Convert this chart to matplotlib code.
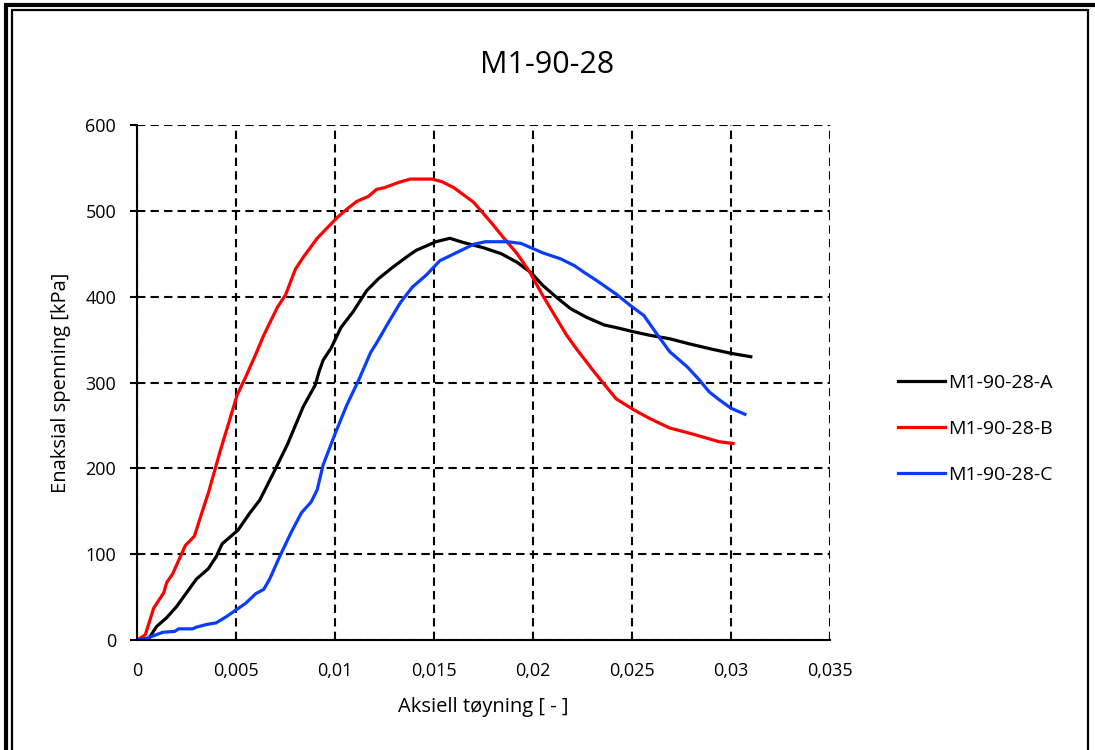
import matplotlib
matplotlib.use("Agg")
import matplotlib.pyplot as plt
from matplotlib.lines import Line2D
from matplotlib.ticker import FuncFormatter

# M1-90-28-A
strain_a = [0, 0.0006, 0.001, 0.0015, 0.002, 0.0025, 0.003, 0.0036, 0.004, 0.0043, 0.0051,
            0.0057, 0.0062, 0.0069, 0.0076, 0.0084, 0.009, 0.0092, 0.0094, 0.0098, 0.0103,
            0.0109, 0.0116, 0.0122, 0.0129, 0.0136, 0.0141, 0.0151, 0.0158, 0.0165, 0.0175,
            0.0184, 0.0192, 0.0199, 0.0205, 0.0212, 0.0219, 0.0227, 0.0236, 0.0242, 0.0251,
            0.0259, 0.0269, 0.0279, 0.029, 0.03, 0.031]
stress_a = [0, 2, 16, 26, 39, 55, 71, 83, 97, 112, 128,
            148, 163, 195, 228, 272, 297, 313, 326, 340, 364,
            382, 407, 421, 434, 446, 454, 464, 468, 463, 457,
            450, 440, 428, 413, 399, 386, 376, 367, 364, 359,
            355, 351, 345, 339, 334, 330]

# M1-90-28-B
strain_b = [0, 0.00042, 0.00084, 0.00135, 0.0015, 0.0018, 0.00244, 0.0029, 0.0033, 0.0036,
            0.0042, 0.0047, 0.00505, 0.0055, 0.006, 0.0064, 0.0071, 0.0075, 0.008, 0.0084,
            0.0091, 0.0101, 0.0106, 0.0111, 0.0117, 0.0121, 0.0125, 0.0132, 0.0138, 0.0149,
            0.0154, 0.016, 0.017, 0.0179, 0.0185, 0.0192, 0.0198, 0.0205, 0.0211, 0.0217,
            0.0222, 0.0231, 0.0237, 0.0242, 0.0251, 0.0259, 0.0269, 0.0279, 0.0288, 0.0294,
            0.0301]
stress_b = [0, 6, 37, 55, 67, 77, 110, 121, 150, 171,
            220, 258, 285, 307, 333, 355, 388, 402, 432, 446,
            468, 492, 502, 511, 517, 525, 527, 533, 537, 537,
            534, 527, 510, 486, 469, 450, 430, 401, 378, 355,
            339, 312, 295, 281, 268, 258, 247, 241, 235, 231,
            229]

# M1-90-28-C
strain_c = [0, 0.0005, 0.0013, 0.0019, 0.0021, 0.0028, 0.003, 0.0035, 0.004, 0.0045,
            0.005, 0.0055, 0.006, 0.0064, 0.0067, 0.0072, 0.0078, 0.0083, 0.0088, 0.0091,
            0.0094, 0.01, 0.0106, 0.0112, 0.0118, 0.0121, 0.0127, 0.0133, 0.0139, 0.0146,
            0.0153, 0.0162, 0.017, 0.0176, 0.0187, 0.0194, 0.0199, 0.0205, 0.0214, 0.0221,
            0.0226, 0.0232, 0.0242, 0.0249, 0.0256, 0.0263, 0.0269, 0.0278, 0.0284, 0.0289,
            0.0294, 0.03, 0.0307]
stress_c = [0, 2, 9, 10, 13, 13, 15, 18, 20, 27,
            35, 43, 54, 59, 71, 97, 126, 148, 161, 175,
            204, 240, 274, 303, 335, 346, 370, 393, 411, 425,
            442, 452, 461, 464, 464, 462, 457, 451, 444, 436,
            428, 419, 403, 390, 378, 355, 336, 318, 303, 289,
            280, 270, 263]

labels = ["M1-90-28-A", "M1-90-28-B", "M1-90-28-C"]
colors = ["#000000", "#ff0000", "#0a3cff"]

plt.rcParams['font.family'] = ['Open Sans', 'DejaVu Sans']

fig = plt.figure(figsize=(10.95, 7.5), dpi=100)
ax = fig.add_axes([137 / 1095, 1 - 640 / 750, 693 / 1095, 515 / 750])

for x, y, lab, c in zip([strain_a, strain_b, strain_c], [stress_a, stress_b, stress_c], labels, colors):
    ax.plot(x, y, color=c, lw=2.3, label=lab, zorder=3)

ax.set_xlim(0, 0.035)
ax.set_ylim(0, 600)
ax.set_xticks([0, 0.005, 0.01, 0.015, 0.02, 0.025, 0.03, 0.035])
ax.set_yticks(range(0, 601, 100))
ax.xaxis.set_major_formatter(FuncFormatter(lambda v, p: ("%g" % round(v, 4)).replace(".", ",")))
ax.tick_params(axis='x', length=0, pad=16, labelsize=13)
ax.tick_params(axis='y', length=5, width=1.5, direction='out', pad=10, labelsize=13)

ax.grid(True, color='black', linestyle=(0, (4, 2.5)), lw=1.5)
ax.spines['top'].set_visible(False)
ax.spines['right'].set_visible(False)
ax.spines['left'].set_linewidth(1.5)
ax.spines['bottom'].set_linewidth(1.5)
ax.spines['left'].set_zorder(4)
ax.spines['bottom'].set_zorder(4)

ax.set_xlabel("Aksiell tøyning [ - ]", fontsize=14.5, labelpad=12)
ax.set_ylabel("Enaksial spenning [kPa]", fontsize=14.5, labelpad=10)
fig.text(0.5, 1 - 65 / 750, "M1-90-28", ha='center', va='center', fontsize=22)

leg = ax.legend(loc='center left', bbox_to_anchor=(1.073, 0.41), frameon=False,
                fontsize=14, handlelength=2.4, handletextpad=0.15, labelspacing=1.45)

# double border around the chart
W, H = 1095, 750
def fline(xs, ys, lw, c):
    fig.add_artist(Line2D([v / W for v in xs], [1 - v / H for v in ys], color=c, lw=lw,
                          transform=fig.transFigure, solid_capstyle='butt'))

fline([5.5, 5.5], [750, 4.5], 3, 'black')
fline([4, 1095], [4.5, 4.5], 3, 'black')
fline([11.5, 11.5], [750, 9.5], 1.6, 'black')
fline([11, 1088], [9.5, 9.5], 1.6, 'black')
fline([1087.5, 1087.5], [9, 750], 1.6, 'black')

fig.savefig("out.png", dpi=100)
